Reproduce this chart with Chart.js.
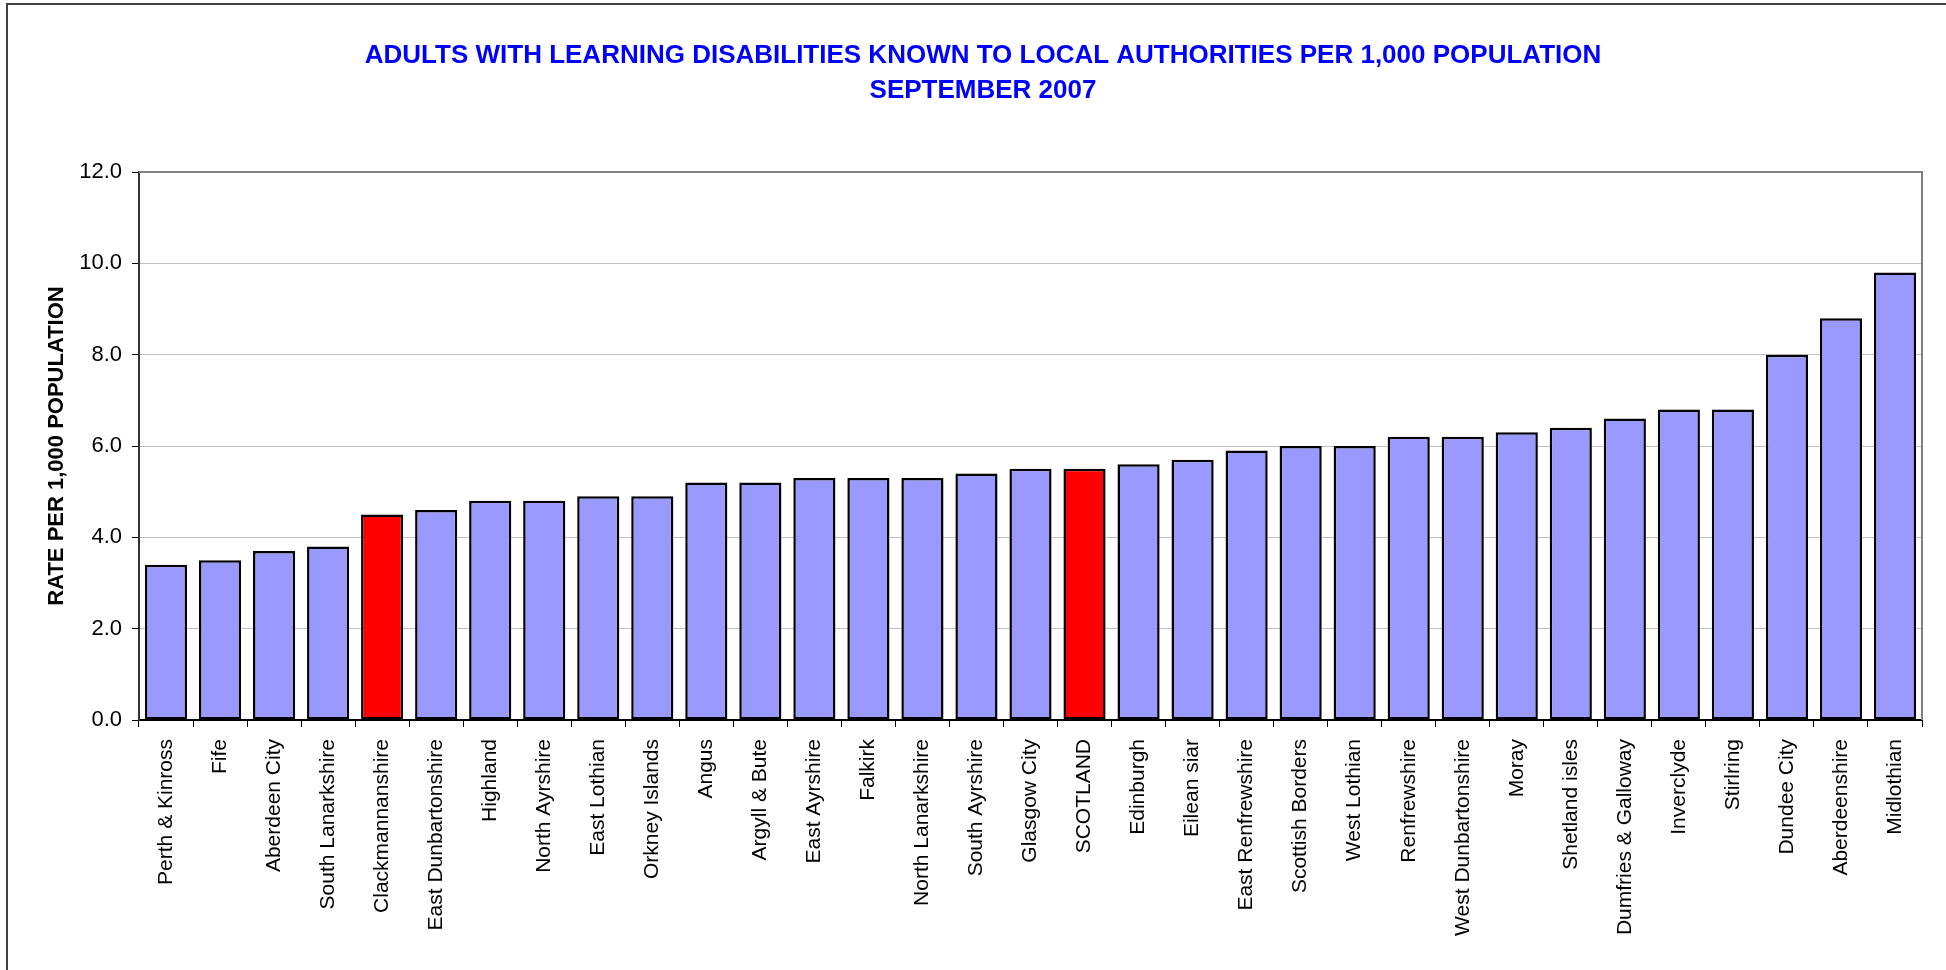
<!DOCTYPE html>
<html>
<head>
<meta charset="utf-8">
<script src="https://cdn.jsdelivr.net/npm/chart.js@4.4.0/dist/chart.umd.min.js"></script>
<style>
  html, body { margin: 0; padding: 0; background: #fff; overflow: hidden; }
  #wrap { position: relative; width: 1946px; height: 970px; }
  #frame {
    position: absolute; left: 6px; top: 3px; width: 2000px; height: 1000px;
    border-top: 2px solid #404040; border-left: 2px solid #404040;
    pointer-events: none;
  }
</style>
</head>
<body>
<div id="wrap">
  <canvas id="chart"></canvas>
  <div id="frame"></div>
</div>
<script>
// Authorities, sorted by rate (as in the source chart)
const categories = [
  'Perth & Kinross', 'Fife', 'Aberdeen City', 'South Lanarkshire', 'Clackmannanshire',
  'East Dunbartonshire', 'Highland', 'North Ayrshire', 'East Lothian', 'Orkney Islands',
  'Angus', 'Argyll & Bute', 'East Ayrshire', 'Falkirk', 'North Lanarkshire',
  'South Ayrshire', 'Glasgow City', 'SCOTLAND', 'Edinburgh', 'Eilean siar',
  'East Renfrewshire', 'Scottish Borders', 'West Lothian', 'Renfrewshire', 'West Dunbartonshire',
  'Moray', 'Shetland isles', 'Dumfries & Galloway', 'Inverclyde', 'Stirlring',
  'Dundee City', 'Aberdeenshire', 'Midlothian'
];

// Rate per 1,000 population
const rates = [
  3.4, 3.5, 3.7, 3.8, 4.5,
  4.6, 4.8, 4.8, 4.9, 4.9,
  5.2, 5.2, 5.3, 5.3, 5.3,
  5.4, 5.5, 5.5, 5.6, 5.7,
  5.9, 6.0, 6.0, 6.2, 6.2,
  6.3, 6.4, 6.6, 6.8, 6.8,
  8.0, 8.8, 9.8
];

// Bars drawn in red
const highlighted = ['Clackmannanshire', 'SCOTLAND'];

const yTicks = [0, 2, 4, 6, 8, 10, 12];

const titleLines = [
  'ADULTS WITH LEARNING DISABILITIES KNOWN TO LOCAL AUTHORITIES PER 1,000 POPULATION',
  'SEPTEMBER 2007'
];

const FONT = "'Liberation Sans', Arial, sans-serif";

// Grey line along the top and right edges of the plot area
const plotFrame = {
  id: 'plotFrame',
  afterDatasetsDraw(chart) {
    const { ctx, chartArea: a } = chart;
    ctx.save();
    ctx.strokeStyle = '#808080';
    ctx.lineWidth = 2;
    ctx.beginPath();
    ctx.moveTo(a.left, a.top);
    ctx.lineTo(a.right, a.top);
    ctx.lineTo(a.right, a.bottom);
    ctx.stroke();
    ctx.restore();
  }
};

const canvas = document.getElementById('chart');
canvas.width = 1946;
canvas.height = 970;

new Chart(canvas, {
  type: 'bar',
  data: {
    labels: categories,
    datasets: [{
      data: rates,
      backgroundColor: categories.map(c => highlighted.includes(c) ? '#FF0000' : '#9999FF'),
      borderColor: '#000000',
      borderWidth: 2.5,
      borderSkipped: false,
      categoryPercentage: 1,
      barPercentage: 0.78
    }]
  },
  options: {
    responsive: false,
    animation: false,
    events: [],
    // left padding also nudges the centred title to the right, as in the source
    layout: { padding: { left: 44, right: 24, top: 0, bottom: 0 } },
    plugins: {
      legend: { display: false },
      tooltip: { enabled: false },
      title: {
        display: true,
        text: titleLines,
        color: '#0000FF',
        font: { family: FONT, size: 26, weight: 'bold', lineHeight: 35 / 26 },
        padding: { top: 38, bottom: 64 }
      }
    },
    scales: {
      x: {
        grid: {
          display: true,
          drawOnChartArea: false,
          tickLength: 7,
          tickColor: '#000000',
          offset: true
        },
        border: { color: '#000000', width: 2 },
        ticks: {
          color: '#000000',
          font: { family: FONT, size: 21 },
          minRotation: 90,
          maxRotation: 90,
          autoSkip: false,
          padding: 12
        },
        afterFit(scale) { scale.height = 250; }
      },
      y: {
        min: 0,
        max: 12,
        afterBuildTicks(scale) { scale.ticks = yTicks.map(v => ({ value: v })); },
        grid: {
          color: '#c0c0c0',
          lineWidth: 1,
          tickLength: 7,
          tickColor: '#000000'
        },
        border: { color: '#333333', width: 2 },
        ticks: {
          color: '#000000',
          font: { family: FONT, size: 22 },
          padding: 10,
          callback: v => Number(v).toFixed(1)
        },
        title: {
          display: true,
          text: 'RATE PER 1,000 POPULATION',
          color: '#000000',
          font: { family: FONT, size: 22, weight: 'bold', lineHeight: 1.2 },
          padding: { top: 0, bottom: 0 }
        },
        afterFit(scale) { scale.width = 95; }
      }
    }
  },
  plugins: [plotFrame]
});
</script>
</body>
</html>
